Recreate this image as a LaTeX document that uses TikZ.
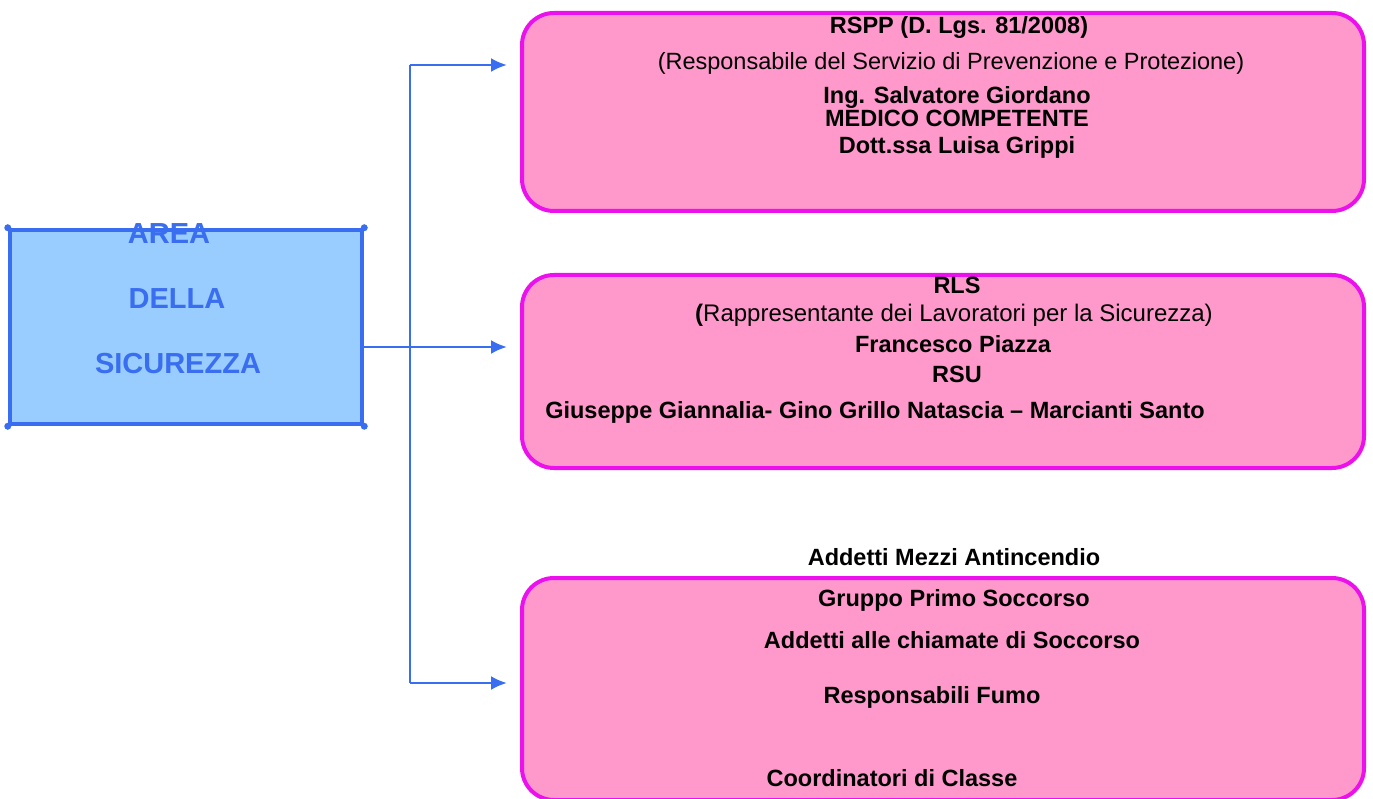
\documentclass[tikz,border=0pt]{standalone}
\usepackage{fontspec}
\setmainfont{Liberation Sans}
\usetikzlibrary{arrows.meta}
\definecolor{areablue}{RGB}{153,204,255}
\definecolor{lineblue}{RGB}{58,110,240}
\definecolor{boxpink}{RGB}{255,153,204}
\definecolor{boxedge}{RGB}{236,16,236}
\begin{document}
\begin{tikzpicture}[x=1pt,y=-1pt,>={Latex[length=16pt,width=14pt]},
	area node/.style={rectangle,draw=lineblue,fill=areablue,line width=4.5pt,minimum width=352pt,minimum height=194pt,inner sep=0pt},
	pink node/.style={rectangle,rounded corners=32pt,draw=boxedge,fill=boxpink,line width=4pt,minimum width=842pt,inner sep=0pt},
	area text/.style={anchor=base,text=lineblue,font=\fontsize{29}{34}\selectfont\bfseries},
	txt node/.style={anchor=base,inner sep=0pt,font=\fontsize{23.5}{28}\selectfont\bfseries},
	link/.style={draw=lineblue,line width=2.5pt}]
	\useasboundingbox (0,0) rectangle (1373,799);
	% left box
	\node(area) [area node] at (186,327) {};
	\foreach \c in {north west,north east,south west,south east}
		\fill[lineblue] (area.\c) circle (3.5pt);
	\node(t1) [area text] at (169,243.5) {AREA};
	\node(t2) [area text] at (177,308.5) {DELLA};
	\node(t3) [area text] at (178,373.5) {SICUREZZA};
	% right boxes
	\node(b1) [pink node, minimum height=198pt] at (943,112) {};
	\node(b2) [pink node, minimum height=193pt] at (943,371.5) {};
	\node(b3) [pink node, minimum height=222pt] at (943,689) {};
	% junctions
	\coordinate (j1) at (410,65);
	\coordinate (j2) at (410,347);
	\coordinate (j3) at (410,683);
	\draw[link] (area.east |- j2) -- (j2);
	\draw[link] (j1) -- (j3);
	\draw[link,->,shorten >=13pt] (j1) -- (b1.west |- j1);
	\draw[link,->,shorten >=13pt] (j2) -- (b2.west |- j2);
	\draw[link,->,shorten >=13pt] (j3) -- (b3.west |- j3);
	% texts, first box
	\node(r1) [txt node] at (959,33.5) {RSPP (D. Lgs. 81/2008)};
	\node(r2) [txt node,font=\fontsize{23.5}{28}\selectfont] at (951,69.5) {(Responsabile del Servizio di Prevenzione e Protezione)};
	\node(r3) [txt node] at (957,103.5) {Ing. Salvatore Giordano};
	\node(r4) [txt node] at (957,126.5) {MEDICO COMPETENTE};
	\node(r5) [txt node] at (957,153.5) {Dott.ssa Luisa Grippi};
	% texts, second box
	\node(s1) [txt node] at (957,293.5) {RLS};
	\node(s2) [txt node,font=\fontsize{24}{28}\selectfont] at (954,321.5) {\textbf{(}Rappresentante dei Lavoratori per la Sicurezza)};
	\node(s3) [txt node] at (953,352.5) {Francesco Piazza};
	\node(s4) [txt node] at (957,382.5) {RSU};
	\node(s5) [txt node] at (875,418.5) {Giuseppe Giannalia- Gino Grillo Natascia – Marcianti Santo};
	% texts, third box
	\node(u1) [txt node] at (954,565.5) {Addetti Mezzi Antincendio};
	\node(u2) [txt node] at (954,606.5) {Gruppo Primo Soccorso};
	\node(u3) [txt node] at (952,648.5) {Addetti alle chiamate di Soccorso};
	\node(u4) [txt node] at (932,703.5) {Responsabili Fumo};
	\node(u5) [txt node] at (892,786.5) {Coordinatori di Classe};
\end{tikzpicture}
\end{document}
